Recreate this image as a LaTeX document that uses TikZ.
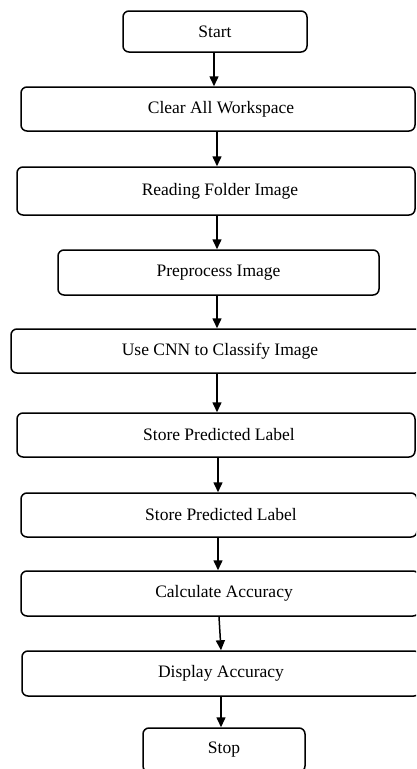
\documentclass[tikz,border=0pt]{standalone}
\usepackage{fontspec}
\setmainfont{Liberation Serif}
\usetikzlibrary{arrows.meta}
\begin{document}
\begin{tikzpicture}[x=1pt,y=-1pt,
  stepbox/.style={draw=black, line width=1.5pt, rounded corners=6pt,
    rectangle, inner sep=0pt, font=\fontsize{17.5}{20}\selectfont},
  flow/.style={draw=black, line width=1.5pt,
    -{Triangle[length=10pt,width=9pt]}}]
\useasboundingbox (0,0) rectangle (416,769);
\clip (0,0) rectangle (416,769);
\fill[white] (0,0) rectangle (416,769);

% process steps, top to bottom
\node[stepbox, minimum width=184pt, minimum height=41pt] (start)   at (215,31.5) {Start};
\node[stepbox, minimum width=394pt, minimum height=44pt] (clear)   at (218,109)  {\hspace*{6pt}Clear All Workspace};
\node[stepbox, minimum width=398pt, minimum height=48pt] (read)    at (216,191)  {\hspace*{8pt}Reading Folder Image};
\node[stepbox, minimum width=321pt, minimum height=45pt] (prep)    at (218.5,272.5) {Preprocess Image};
\node[stepbox, minimum width=410pt, minimum height=44pt] (cnn)     at (216,351)  {\hspace*{8pt}Use CNN to Classify Image};
\node[stepbox, minimum width=398pt, minimum height=44pt] (storea)  at (216,435)  {\hspace*{6pt}Store Predicted Label};
\node[stepbox, minimum width=396pt, minimum height=44pt] (storeb)  at (219,515)  {\hspace*{4pt}Store Predicted Label};
\node[stepbox, minimum width=398pt, minimum height=45pt] (calc)    at (220,593.5) {\hspace*{8pt}Calculate Accuracy};
\node[stepbox, minimum width=398pt, minimum height=45pt] (disp)    at (221,673.5) {Display Accuracy};
\node[stepbox, minimum width=162pt, minimum height=44pt] (stop)    at (224,750)  {Stop};

% connectors
\draw[flow] (start.south -| 214,0)  -- (clear.north -| 214,0);
\draw[flow] (clear.south -| 217,0)  -- (read.north -| 217,0);
\draw[flow] (read.south -| 217,0)   -- (prep.north -| 217,0);
\draw[flow] (prep.south -| 217,0)   -- (cnn.north -| 217,0);
\draw[flow] (cnn.south -| 217,0)    -- (storea.north -| 217,0);
\draw[flow] (storea.south -| 218,0) -- (storeb.north -| 218,0);
\draw[flow] (storeb.south -| 218,0) -- (calc.north -| 218,0);
\draw[flow] (calc.south -| 219,0)   -- (disp.north -| 221,0);
\draw[flow] (disp.south -| 221,0)   -- (stop.north -| 221,0);
\end{tikzpicture}
\end{document}
